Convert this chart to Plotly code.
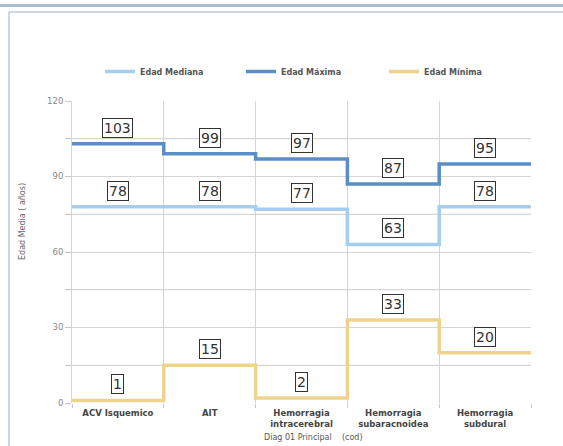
import plotly.graph_objects as go

categories = ["ACV Isquemico", "AIT", "Hemorragia<br>intracerebral",
              "Hemorragia<br>subaracnoidea", "Hemorragia<br>subdural"]
edad_mediana = [78, 78, 77, 63, 78]
edad_maxima = [103, 99, 97, 87, 95]
edad_minima = [1, 15, 2, 33, 20]
series_names = ["Edad Mediana", "Edad Máxima", "Edad Mínima"]
series_colors = ["#a6cdee", "#5a8ec6", "#eed38c"]
y_range = [0, 120]
y_grid_step = 15
y_label_every = 2

W, H = 563, 446
L, R, T, B = 72, 32, 101, 43
pw, ph = W - L - R, H - T - B

def px2paper_x(px):
    return (px - L) / pw

def px2paper_y(py):
    return (H - B - py) / ph

fig = go.Figure()
n = len(categories)
xs = list(range(n + 1))
legend_ids = ["legend", "legend2", "legend3"]
legend_px = [100, 241, 384]
for name, vals, col, lg in zip(series_names, [edad_mediana, edad_maxima, edad_minima],
                               series_colors, legend_ids):
    fig.add_trace(go.Scatter(
        x=xs, y=vals + [vals[-1]], mode="lines", name=name, legend=lg,
        line=dict(color=col, width=3.5, shape="hv"), hoverinfo="skip"))
    for i, v in enumerate(vals):
        fig.add_annotation(
            x=i + 0.5, y=v, text=str(v), showarrow=False, yshift=16,
            font=dict(family="DejaVu Sans", size=14, color="#333333"),
            bordercolor="#333333", borderwidth=1, borderpad=1, bgcolor="white")

# axis titles as annotations
fig.add_annotation(xref="paper", yref="paper", x=px2paper_x(313), y=px2paper_y(437),
                   text="Diag 01 Principal    (cod)", showarrow=False,
                   font=dict(size=8, color="#555555"), xanchor="center", yanchor="middle")
fig.add_annotation(xref="paper", yref="paper", x=px2paper_x(22), y=px2paper_y(222),
                   text="Edad Media ( años)", showarrow=False, textangle=-90,
                   font=dict(size=8, color="#666666"), xanchor="center", yanchor="middle")

shapes = [
    dict(type="line", xref="paper", yref="paper", x0=px2paper_x(0), x1=px2paper_x(W),
         y0=px2paper_y(5.5), y1=px2paper_y(5.5), line=dict(color="#a9bdd1", width=3)),
    dict(type="line", xref="paper", yref="paper", x0=px2paper_x(9), x1=px2paper_x(W),
         y0=px2paper_y(12), y1=px2paper_y(12), line=dict(color="#c0ccd8", width=1.5)),
    dict(type="line", xref="paper", yref="paper", x0=px2paper_x(9), x1=px2paper_x(9),
         y0=px2paper_y(12), y1=px2paper_y(H), line=dict(color="#b8c8da", width=1.5)),
]
# intermediate horizontal gridlines (between labelled ticks)
for k in range(y_range[0] + y_grid_step, y_range[1], 2 * y_grid_step):
    shapes.append(dict(type="line", xref="paper", yref="y", x0=px2paper_x(66), x1=1,
                       y0=k, y1=k, layer="below", line=dict(color="#d6d6d6", width=1)))

legend_font = dict(size=8, color="#555555", family="DejaVu Sans", weight="bold")
legend_common = dict(orientation="h", xanchor="left", y=px2paper_y(57), yanchor="top",
                     font=legend_font, bgcolor="rgba(0,0,0,0)")

fig.update_layout(
    width=W, height=H,
    margin=dict(l=L, r=R, t=T, b=B),
    paper_bgcolor="white", plot_bgcolor="white",
    font=dict(family="DejaVu Sans", color="#555555"),
    shapes=shapes,
    showlegend=True,
    legend=dict(x=px2paper_x(legend_px[0]), **legend_common),
    legend2=dict(x=px2paper_x(legend_px[1]), **legend_common),
    legend3=dict(x=px2paper_x(legend_px[2]), **legend_common),
    xaxis=dict(range=[0, n], tickmode="array",
               tickvals=[i + 0.5 for i in range(n)], ticktext=categories,
               tickfont=dict(size=8.5, color="#444444", family="DejaVu Sans", weight="bold"),
               showgrid=False, zeroline=False, ticks="", ticklabelstandoff=3,
               showline=False, automargin=False,
               minor=dict(tickmode="array", tickvals=xs, showgrid=True,
                          gridcolor="#d4d4d4", gridwidth=1, ticks="outside",
                          ticklen=4, tickcolor="#c8c8c8"),
               fixedrange=True),
    yaxis=dict(range=y_range, tickmode="linear", tick0=0, dtick=y_grid_step,
               ticklabelstep=y_label_every,
               tickfont=dict(size=8.5, color="#888888"),
               showgrid=True, gridcolor="#d6d6d6", gridwidth=1, zeroline=False,
               ticks="outside", ticklen=6, tickcolor="#c8c8c8",
               showline=True, linecolor="#d4d4d4", linewidth=1, automargin=False,
               fixedrange=True),
)

fig.write_html("out.html")
